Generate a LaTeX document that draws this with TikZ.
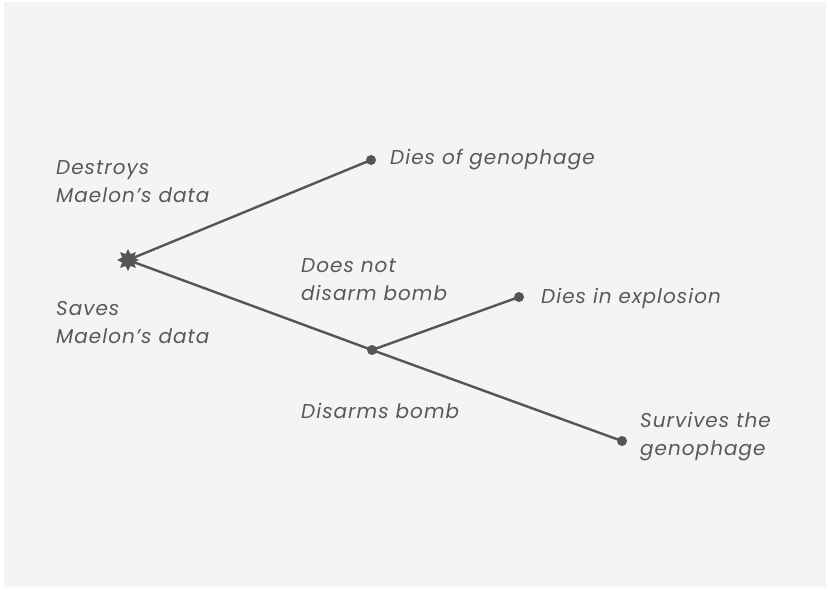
\documentclass[tikz,border=0pt]{standalone}
\usepackage{fontspec}
\setmainfont{Poppins}
\newfontfamily\lblfont[LetterSpace=5]{Poppins}
\usetikzlibrary{shapes.geometric}
\definecolor{bgc}{HTML}{F4F4F4}
\definecolor{ink}{HTML}{555555}
\definecolor{txt}{HTML}{595959}
\tikzset{
  edge/.style={draw=ink, line width=2.4pt},
  dot/.style={circle, fill=ink, inner sep=0pt, minimum size=10pt},
  startnode/.style={star, star points=8, star point ratio=1.7, fill=ink, inner sep=0pt, minimum size=22pt},
  lbl/.style={text=txt, font=\lblfont\itshape\fontsize{20}{28}\selectfont, inner sep=0pt, align=left, anchor=west},
}
\begin{document}
\begin{tikzpicture}[x=1pt, y=-1pt]
\useasboundingbox (0,0) rectangle (829,589);
\fill[white] (0,0) rectangle (829,589);
\fill[bgc] (4,2) rectangle (826,587);
\node[startnode] (s) at (128,260) {};
\node[dot] (g) at (371,160) {};
\node[dot] (b) at (372,350) {};
\node[dot] (e) at (519,297) {};
\node[dot] (v) at (622,441) {};
\draw[edge] (s.center) -- (g.center);
\draw[edge] (s.center) -- (b.center);
\draw[edge] (b.center) -- (e.center);
\draw[edge] (b.center) -- (v.center);
\node[lbl] (tg) at (390,160) {Dies of genophage};
\node[lbl] (te) at (541,298) {Dies in explosion};
\node[lbl] (tv) at (640,437) {Survives the\\genophage};
\node[lbl] (td) at (56,182) {Destroys\\Maelon’s data};
\node[lbl] (ts) at (56,323) {Saves\\Maelon’s data};
\node[lbl] (tn) at (301,280) {Does not\\disarm bomb};
\node[lbl] (tb) at (301,411) {Disarms bomb};
\end{tikzpicture}
\end{document}
